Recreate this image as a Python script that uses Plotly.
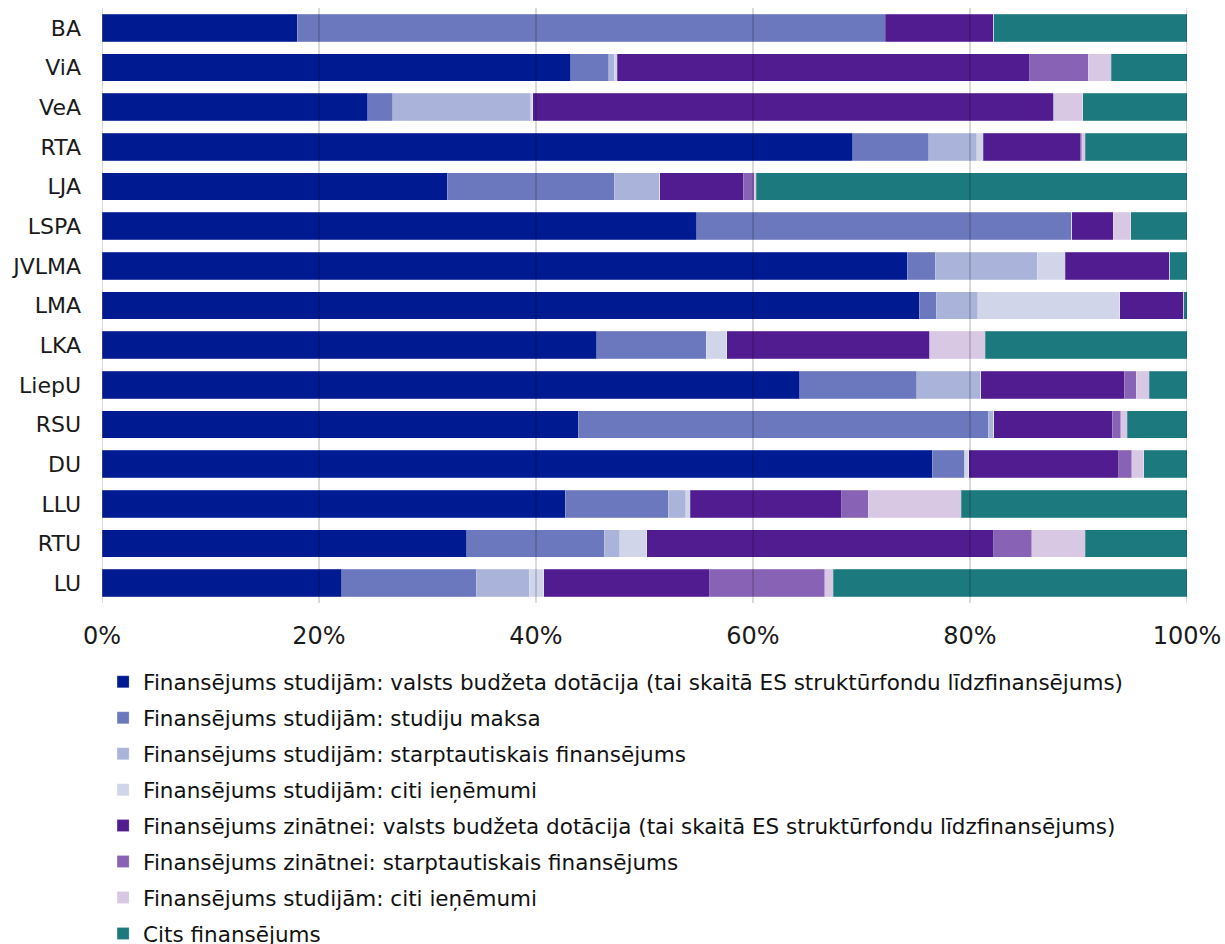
import plotly.graph_objects as go

categories = ["BA", "ViA", "VeA", "RTA", "LJA", "LSPA", "JVLMA", "LMA",
              "LKA", "LiepU", "RSU", "DU", "LLU", "RTU", "LU"]

series_names = [
    "Finansējums studijām: valsts budžeta dotācija (tai skaitā ES struktūrfondu līdzfinansējums)",
    "Finansējums studijām: studiju maksa",
    "Finansējums studijām: starptautiskais finansējums",
    "Finansējums studijām: citi ieņēmumi",
    "Finansējums zinātnei: valsts budžeta dotācija (tai skaitā ES struktūrfondu līdzfinansējums)",
    "Finansējums zinātnei: starptautiskais finansējums",
    "Finansējums studijām: citi ieņēmumi ",
    "Cits finansējums",
]

# values in % per category (same order as categories)
stud_budzets = [18.0, 43.2, 24.5, 69.2, 31.8, 54.8, 74.2, 75.3, 45.6, 64.3, 43.9, 76.5, 42.7, 33.6, 22.1]
stud_maksa   = [54.2, 3.5, 2.3, 7.0, 15.4, 34.6, 2.6, 1.6, 10.1, 10.8, 37.8, 3.0, 9.5, 12.7, 12.4]
stud_starpt  = [0.0, 0.5, 12.7, 4.4, 4.2, 0.0, 9.4, 3.8, 0.0, 5.9, 0.5, 0.0, 1.6, 1.4, 4.9]
stud_citi    = [0.0, 0.3, 0.2, 0.6, 0.0, 0.0, 2.6, 13.1, 1.9, 0.0, 0.0, 0.4, 0.4, 2.5, 1.3]
zin_budzets  = [10.0, 38.0, 48.0, 9.0, 7.7, 3.8, 9.6, 5.9, 18.7, 13.2, 10.9, 13.8, 14.0, 32.0, 15.3]
zin_starpt   = [0.0, 5.4, 0.0, 0.1, 1.0, 0.0, 0.0, 0.0, 0.0, 1.1, 0.8, 1.2, 2.4, 3.5, 10.6]
zin_citi     = [0.0, 2.1, 2.7, 0.3, 0.2, 1.6, 0.0, 0.0, 5.1, 1.2, 0.6, 1.1, 8.6, 4.9, 0.8]
cits         = [17.8, 7.0, 9.6, 9.4, 39.7, 5.2, 1.6, 0.3, 18.6, 3.5, 5.5, 4.0, 20.8, 9.4, 32.6]

series_values = [stud_budzets, stud_maksa, stud_starpt, stud_citi,
                 zin_budzets, zin_starpt, zin_citi, cits]

colors = ["#001A92", "#6B78BE", "#AAB3D9", "#D0D5EA",
          "#521C91", "#8862B4", "#D8C8E4", "#1C7A7E"]

tick_vals = [0, 20, 40, 60, 80, 100]
tick_text = ["0%", "20%", "40%", "60%", "80%", "100%"]

fig = go.Figure()
for i, (name, vals, col) in enumerate(zip(series_names, series_values, colors)):
    fig.add_trace(go.Bar(
        y=categories, x=vals, name=name, orientation="h",
        marker=dict(color=col, line=dict(color="rgba(255,255,255,0.35)", width=0.6)),
        legendgroup=f"g{i}",
        hovertemplate="%{y}: %{x:.1f}%<extra></extra>",
    ))

# gridlines drawn above the bars, semi-transparent
for v in tick_vals:
    fig.add_shape(type="line", xref="x", yref="paper", x0=v, x1=v, y0=0, y1=1,
                  line=dict(color="rgba(0,0,0,0.15)", width=2), layer="above")

font_family = "DejaVu Sans, Verdana, sans-serif"

fig.update_layout(
    barmode="stack",
    bargap=0.31,
    width=1225, height=944,
    margin=dict(l=101.5, r=37.5, t=8, b=340.5, autoexpand=False),
    plot_bgcolor="white", paper_bgcolor="white",
    font=dict(family=font_family, color="#000000"),
    showlegend=True,
    legend=dict(
        orientation="v", traceorder="grouped",
        x=0.001, xanchor="left", y=-0.098, yanchor="top",
        font=dict(size=21.5, family=font_family, color="#111111"),
        tracegroupgap=5, itemwidth=30,
        bgcolor="rgba(0,0,0,0)",
    ),
    xaxis=dict(
        range=[0, 100], tickvals=tick_vals, ticktext=tick_text,
        showgrid=False, zeroline=False, showline=False, automargin=False,
        tickfont=dict(size=24, family=font_family, color="#1a1a1a"),
        ticks="", ticklabelstandoff=16, fixedrange=True,
    ),
    yaxis=dict(
        categoryorder="array", categoryarray=categories, autorange="reversed",
        showgrid=False, zeroline=False, showline=False, automargin=False,
        tickfont=dict(size=22, family=font_family, color="#1a1a1a"),
        ticks="", ticklabelstandoff=20,
    ),
)

page_css = ("document.body.style.margin='0';"
            "document.body.style.overflow='hidden';"
            "document.documentElement.style.overflow='hidden';")

fig.write_html("out.html", post_script=page_css,
               config={"displayModeBar": False})
